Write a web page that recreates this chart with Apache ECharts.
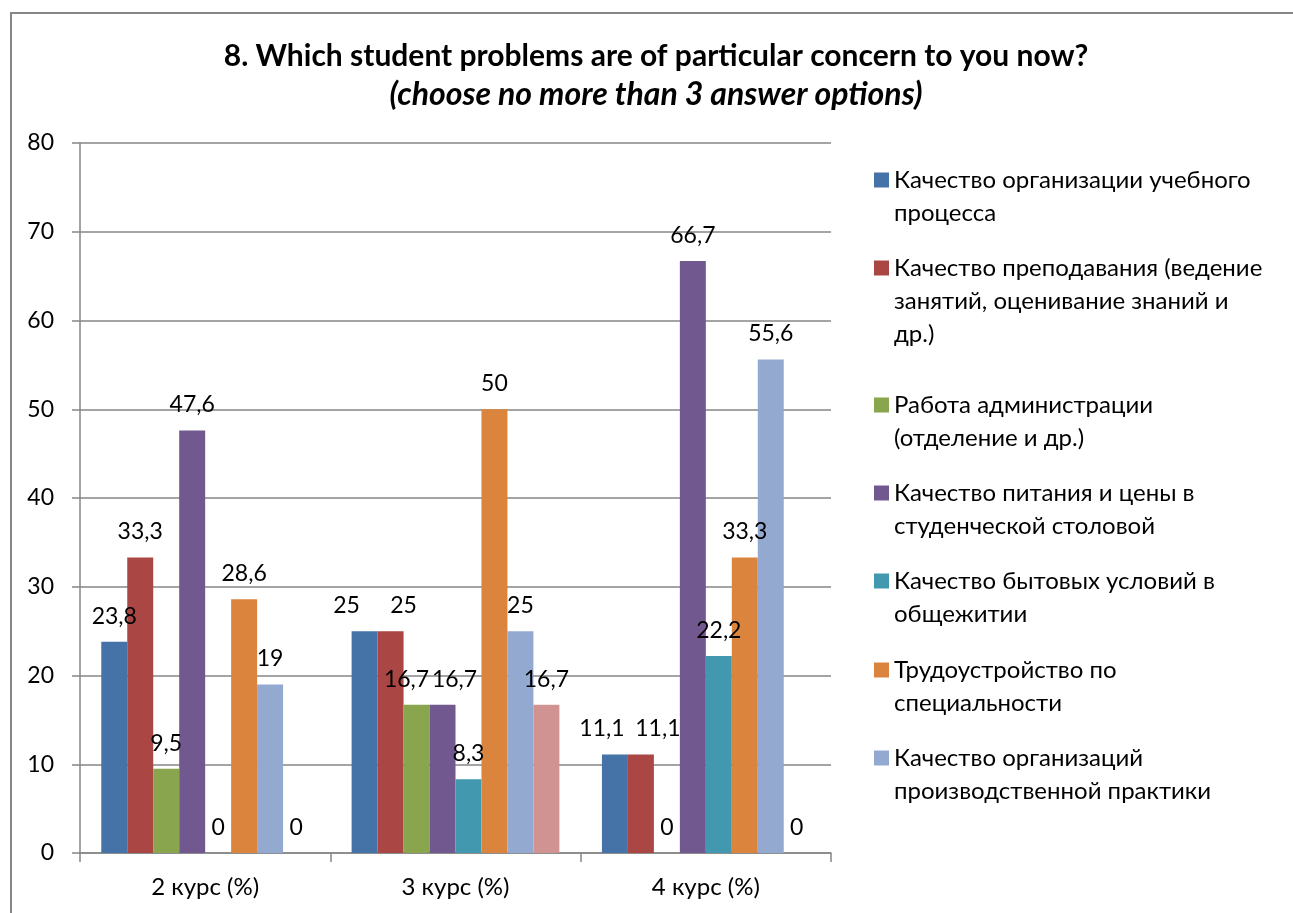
<!DOCTYPE html>
<html>
<head>
<meta charset="utf-8">
<script src="https://cdn.jsdelivr.net/npm/echarts@6/dist/echarts.min.js"></script>
<style>
  html, body { margin: 0; padding: 0; background: #fff; }
  #main { width: 1293px; height: 913px; }
</style>
</head>
<body>
<div id="main"></div>
<script>
// chart data
var categories = ['2 курс (%)', '3 курс (%)', '4 курс (%)'];

var seriesNames = [
    'Качество организации учебного\nпроцесса',
    'Качество преподавания (ведение\nзанятий, оценивание знаний и\nдр.)',
    'Работа администрации\n(отделение и др.)',
    'Качество питания и цены в\nстуденческой столовой',
    'Качество бытовых условий в\nобщежитии',
    'Трудоустройство по\nспециальности',
    'Качество организаций\nпроизводственной практики',
    'Другое'
];

var orgProcess   = [23.8, 25, 11.1];
var teaching     = [33.3, 25, 11.1];
var admin        = [9.5, 16.7, 0];
var canteen      = [47.6, 16.7, 66.7];
var dormitory    = [0, 8.3, 22.2];
var employment   = [28.6, 50, 33.3];
var practice     = [19, 25, 55.6];
var other        = [0, 16.7, 0];

var seriesValues = [orgProcess, teaching, admin, canteen, dormitory, employment, practice, other];

var colors = ['#4572A7', '#AA4643', '#89A54E', '#71588F', '#4198AF', '#DB843D', '#93A9CF', '#D19392'];

var yTicks = { min: 0, max: 80, interval: 10 };

// labels that were pulled sideways in the original so they don't collide ("series-category": dx)
var labelNudge = { '0-1': -18, '1-1': 13, '2-1': -10, '3-1': 12, '0-2': -13, '1-2': 17 };

var FONT = 'Lato, "Noto Sans", sans-serif';
var NUM_SIZE = 23;
var TEXT_SIZE = 24;

var myChart = echarts.init(document.getElementById('main'));

var series = seriesValues.map(function (vals, i) {
    return {
        name: seriesNames[i],
        type: 'bar',
        data: vals.map(function (v, j) {
            var dx = labelNudge[i + '-' + j];
            return dx ? { value: v, label: { offset: [dx, 0] } } : v;
        }),
        barGap: '0%',
        barCategoryGap: '17%',
        itemStyle: { color: colors[i] },
        label: {
            show: true,
            position: 'top',
            distance: 14,
            color: '#000',
            fontSize: NUM_SIZE,
            fontFamily: FONT,
            formatter: function (p) {
                return String(p.value).replace('.', ',');
            }
        }
    };
});

// one legend per entry; blank lines in front keep the square level with the first line
var lineH = 33;
var legendIconCenters = [180, 268, 405, 493, 581, 670, 758];
var legends = [];
for (var i = 0; i < 7; i++) {
    (function (n) {
        var H = (2 * n - 1) * lineH;
        var offset = Math.max(0, H / 2 - 7.5);
        legends.push({
            data: [seriesNames[i]],
            left: 874,
            top: legendIconCenters[i] - 7.5 - offset,
            padding: 0,
            itemWidth: 15,
            itemHeight: 15,
            icon: 'rect',
            selectedMode: false,
            formatter: function (name) {
                var pre = '';
                for (var k = 1; k < n; k++) pre += ' \n';
                return pre + name;
            },
            textStyle: {
                color: '#000',
                fontSize: TEXT_SIZE,
                fontFamily: FONT,
                lineHeight: lineH
            }
        });
    })(seriesNames[i].split('\n').length);
}

var option = {
    animation: false,
    textStyle: { fontFamily: FONT },
    title: {
        text: '8. Which student problems are of particular concern to you now?',
        subtext: '(choose no more than 3 answer options)',
        left: 656,
        textAlign: 'center',
        top: 38,
        padding: 0,
        itemGap: 3,
        textStyle: {
            color: '#000',
            fontSize: 30,
            fontWeight: 'bold',
            fontFamily: FONT,
            lineHeight: 36
        },
        subtextStyle: {
            color: '#000',
            fontSize: 32,
            fontWeight: 'bold',
            fontStyle: 'italic',
            fontFamily: FONT,
            lineHeight: 36
        }
    },
    legend: legends,
    grid: {
        left: 80,
        right: 462,
        top: 143,
        bottom: 60,
        containLabel: false
    },
    xAxis: {
        type: 'category',
        data: categories,
        axisLine: { lineStyle: { color: '#868686', width: 1.5 } },
        axisTick: { show: true, length: 9, lineStyle: { color: '#868686', width: 1.5 } },
        axisLabel: { color: '#000', fontSize: TEXT_SIZE, margin: 22, fontFamily: FONT }
    },
    yAxis: {
        type: 'value',
        min: yTicks.min,
        max: yTicks.max,
        interval: yTicks.interval,
        axisLine: { show: true, lineStyle: { color: '#868686', width: 1.5 } },
        axisTick: { show: true, length: 8, lineStyle: { color: '#868686', width: 1.5 } },
        axisLabel: { color: '#000', fontSize: NUM_SIZE, margin: 26, fontFamily: FONT },
        splitLine: { show: true, lineStyle: { color: '#868686', width: 1.5 } }
    },
    graphic: [{
        type: 'rect',
        silent: true,
        z: -10,
        shape: { x: 11, y: 13, width: 1400, height: 1000 },
        style: { fill: 'none', stroke: '#868686', lineWidth: 2 }
    }],
    series: series
};

myChart.setOption(option);
</script>
</body>
</html>
